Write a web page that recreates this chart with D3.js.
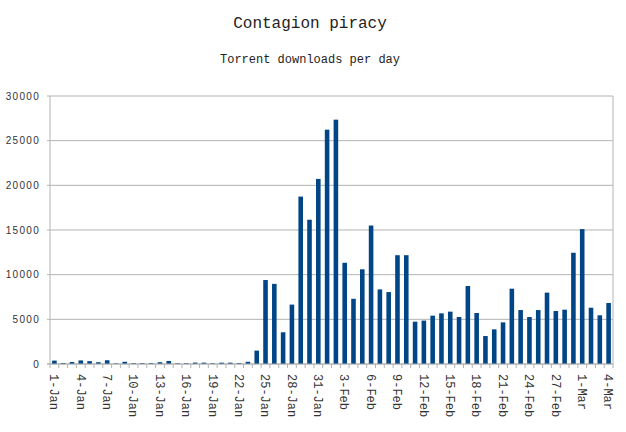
<!DOCTYPE html>
<html>
<head>
<meta charset="utf-8">
<script src="https://cdn.jsdelivr.net/npm/d3@7"></script>
<style>
	body { margin: 0; background: #fff; }
	svg { display: block; }
</style>
</head>
<body>
<svg id="chart" width="626" height="432"></svg>
<script>
// Days from 1 Jan to 4 Mar (2012, leap year)
const days = [];
for (let d = 1; d <= 31; d++) days.push(`${d}-Jan`);
for (let d = 1; d <= 29; d++) days.push(`${d}-Feb`);
for (let d = 1; d <= 4; d++) days.push(`${d}-Mar`);

// Downloads per day
const downloads = [
	380, 110, 220, 400, 320, 200, 420, 70, 250, 100,
	100, 100, 200, 340, 80, 90, 160, 150, 80, 150,
	150, 110, 250, 1500, 9400, 8970, 3550, 6650, 18740, 16150,
	20720, 26230, 27350, 11330, 7300, 10600, 15500, 8350, 8050, 12180,
	12180, 4740, 4860, 5410, 5670, 5860, 5260, 8730, 5710, 3130,
	3880, 4660, 8430, 6040, 5260, 6040, 7990, 5930, 6080, 12450,
	15100, 6300, 5450, 6830
];

const yTicks = [0, 5000, 10000, 15000, 20000, 25000, 30000];

const svg = d3.select("#chart");
const margin = { top: 96, right: 13, bottom: 68, left: 50 };
const width = 626 - margin.left - margin.right;
const height = 432 - margin.top - margin.bottom;

// Titles
svg.append("text")
	.attr("x", 310)
	.attr("y", 28)
	.attr("text-anchor", "middle")
	.style("font-family", "Liberation Mono")
	.style("font-size", "16px")
	.attr("fill", "#222")
	.text("Contagion piracy");

svg.append("text")
	.attr("x", 310)
	.attr("y", 63)
	.attr("text-anchor", "middle")
	.style("font-family", "Liberation Mono")
	.style("font-size", "12px")
	.attr("fill", "#222")
	.text("Torrent downloads per day");

const g = svg.append("g").attr("transform", `translate(${margin.left},${margin.top})`);

const x = d3.scaleBand().domain(days).range([0, width]).paddingInner(0.48).paddingOuter(0.24);
const y = d3.scaleLinear().domain([0, 30000]).range([height, 0]);

// Gridlines
g.append("g")
	.selectAll("line")
	.data(yTicks)
	.join("line")
	.attr("x1", -3)
	.attr("x2", width)
	.attr("y1", (d) => y(d))
	.attr("y2", (d) => y(d))
	.attr("stroke", "#b3b3b3")
	.attr("stroke-width", 1);

// Plot frame (left and right sides)
g.append("line")
	.attr("x1", 0).attr("x2", 0)
	.attr("y1", 0).attr("y2", height)
	.attr("stroke", "#b3b3b3");
g.append("line")
	.attr("x1", width).attr("x2", width)
	.attr("y1", 0).attr("y2", height)
	.attr("stroke", "#b3b3b3");

// Y axis labels
const yAxis = g.append("g")
	.call(d3.axisLeft(y).tickValues(yTicks).tickSize(0).tickPadding(10).tickFormat(d3.format("d")));
yAxis.select(".domain").remove();
yAxis.selectAll("text")
	.style("font-family", "Liberation Sans")
	.style("font-size", "10px")
	.style("letter-spacing", "1.3px")
	.attr("fill", "#333");

// Bars
g.append("g")
	.selectAll("rect")
	.data(downloads)
	.join("rect")
	.attr("x", (d, i) => x(days[i]))
	.attr("y", (d) => y(d))
	.attr("width", x.bandwidth())
	.attr("height", (d) => height - y(d))
	.attr("fill", "#004586");

// X ticks at band boundaries
const step = x.step();
g.append("g")
	.selectAll("line")
	.data(d3.range(days.length + 1))
	.join("line")
	.attr("x1", (i) => i * step)
	.attr("x2", (i) => i * step)
	.attr("y1", height)
	.attr("y2", height + 4)
	.attr("stroke", "#b3b3b3");

// Baseline
g.append("line")
	.attr("x1", -3).attr("x2", width)
	.attr("y1", height).attr("y2", height)
	.attr("stroke", "#b3b3b3");

// X labels, every third day, rotated to read downward
g.append("g")
	.selectAll("text")
	.data(days.filter((d, i) => i % 3 === 0))
	.join("text")
	.attr("transform", (d) => `translate(${x(d) + x.bandwidth() / 2},${height + 10}) rotate(90)`)
	.attr("dy", "0.35em")
	.attr("text-anchor", "start")
	.style("font-family", "Liberation Mono")
	.style("font-size", "12px")
	.attr("fill", "#333")
	.text((d) => d);
</script>
</body>
</html>
